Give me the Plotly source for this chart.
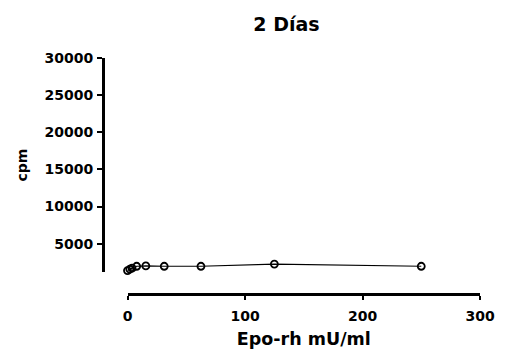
import plotly.graph_objects as go

# Data
dose = [0, 1.95, 3.9, 7.8, 15.6, 31.25, 62.5, 125, 250]
cpm = [1370, 1550, 1700, 1950, 2000, 1950, 1950, 2250, 1950]
y_ticks = [5000, 10000, 15000, 20000, 25000, 30000]
y_labels = ["5000", "10000", "15000", "20000", "25000", "30000"]
x_ticks = [0, 100, 200, 300]
x_labels = ["0", "100", "200", "300"]

FONT = "DejaVu Sans"

fig = go.Figure()
fig.add_trace(go.Scatter(
    x=dose, y=cpm, mode="lines+markers",
    line=dict(color="black", width=1.2),
    marker=dict(symbol="circle-open", size=7, color="black", line=dict(width=1.8)),
    showlegend=False, cliponaxis=False,
))

fig.update_layout(
    width=507, height=357,
    margin=dict(l=103, r=19, t=58, b=60),
    paper_bgcolor="white", plot_bgcolor="white",
    title=dict(text="2 Días", x=0.565, xanchor="center", y=0.933, yanchor="middle",
               font=dict(family=FONT, size=19, color="black", weight="bold")),
    font=dict(family=FONT, color="black"),
    xaxis=dict(
        domain=[0.065, 1], range=[0, 300], tickvals=x_ticks, ticktext=x_labels,
        anchor="free", position=0,
        showline=True, linecolor="black", linewidth=3,
        ticks="outside", ticklen=4, tickwidth=2, tickcolor="black",
        ticklabelstandoff=4,
        showgrid=False, zeroline=False,
        tickfont=dict(family=FONT, size=14, color="black", weight="bold"),
        title=dict(text="Epo-rh mU/ml", standoff=9,
                   font=dict(family=FONT, size=17.5, color="black", weight="bold")),
    ),
    yaxis=dict(
        domain=[0.092, 1], range=[1140, 30000], tickvals=y_ticks, ticktext=y_labels,
        anchor="free", position=0,
        showline=True, linecolor="black", linewidth=3,
        ticks="outside", ticklen=5, tickwidth=2, tickcolor="black",
        ticklabelstandoff=1,
        showgrid=False, zeroline=False,
        tickfont=dict(family=FONT, size=14, color="black", weight="bold"),
        title=dict(text="cpm", standoff=12,
                   font=dict(family=FONT, size=14, color="black", weight="bold")),
    ),
)

fig.write_html("out.html")
